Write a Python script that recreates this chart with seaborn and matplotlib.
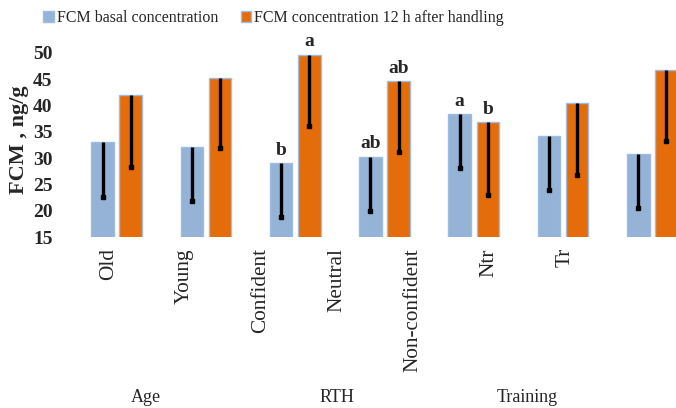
import numpy as np
import pandas as pd
import matplotlib
matplotlib.use("Agg")
import matplotlib.pyplot as plt
import matplotlib.transforms as mtransforms
from matplotlib.patches import Patch
import seaborn as sns

# categories and group labels
categories = ["Old", "Young", "Confident", "Neutral", "Non-confident", "Ntr", "Tr"]
groups = ["Age", "RTH", "Training"]
group_centers = [0.5, 3, 5.5]  # on the label axis (category units)

series = ["FCM basal concentration", "FCM concentration 12 h after handling"]

# bar heights
basal = [33.0, 32.2, 29.1, 30.3, 38.4, 34.3, 30.8]
handling = [42.1, 45.3, 49.7, 44.6, 36.8, 40.5, 46.8]

# error bars (only drawn downwards)
basal_err = [10.3, 10.4, 10.3, 10.4, 10.3, 10.4, 10.2]
handling_err = [13.7, 13.4, 13.6, 13.5, 13.8, 13.7, 13.5]

# significance letters
basal_letters = ["", "", "b", "ab", "a", "", ""]
handling_letters = ["", "", "a", "ab", "b", "", ""]

colors = ["#95B3D7", "#E46C0A"]
edge = "#9DBDE3"

df = pd.DataFrame({
    "category": categories * 2,
    "series": [series[0]] * len(categories) + [series[1]] * len(categories),
    "value": basal + handling,
})

sns.set_style("white")
plt.rcParams["font.family"] = ["Liberation Serif", "DejaVu Serif"]

fig = plt.figure(figsize=(6.76, 4.08), dpi=100)
ax = fig.add_axes([0.1065, 0.419, 0.9246, 0.4512])

sns.barplot(data=df, x="category", y="value", hue="series", order=categories,
            hue_order=series, palette=colors, width=0.63, gap=0.2,
            edgecolor=edge, linewidth=1, saturation=1, errorbar=None,
            legend=False, ax=ax)

ax.set_xlim(-0.5, 6.5)
ax.set_ylim(15, 50)
ax.set_yticks(range(15, 51, 5))
for t in ax.get_yticklabels():
    t.set_fontweight("bold")
ax.tick_params(axis="y", length=0, pad=14, labelsize=14)
ax.set_xticks([])
ax.set_xlabel("")
ax.set_ylabel("FCM , ng/g", fontsize=16, fontweight="bold")
ax.yaxis.set_label_coords(-0.068, 0.53)
sns.despine(ax=ax, left=True, bottom=True)

# error bars and letters
for cont, errs, letters in zip(ax.containers, [basal_err, handling_err],
                               [basal_letters, handling_letters]):
    for bar, e, lt in zip(cont.patches, errs, letters):
        x = bar.get_x() + bar.get_width() / 2
        top = bar.get_y() + bar.get_height()
        ax.vlines(x, top - e, top, color="black", linewidth=2.4, zorder=3)
        ax.plot([x], [top - e], marker="s", markersize=3.5, color="black", zorder=3)
        if lt:
            ax.annotate(lt, (x, top), xytext=(0, 3), textcoords="offset points",
                        ha="center", va="bottom", fontsize=14, fontweight="bold")

# category labels sit on their own axis
lab = fig.add_axes([0.1036, 0.419, 0.789, 0.01])
lab.set_xlim(-0.5, 6.5)
lab.set_xticks(range(len(categories)))
lab.set_xticklabels(categories, rotation=90, fontsize=15.3, va="top")
lab.set_yticks([])
lab.tick_params(axis="x", length=0, pad=8)
lab.patch.set_alpha(0)
for s in lab.spines.values():
    s.set_visible(False)

trans = mtransforms.blended_transform_factory(lab.transData, fig.transFigure)
for g, c in zip(groups, group_centers):
    lab.text(c, 0.026, g, transform=trans, ha="center", va="center", fontsize=13)

handles = [Patch(facecolor=colors[0], edgecolor=edge),
           Patch(facecolor=colors[1], edgecolor=edge)]
fig.legend(handles, series, loc="center left", bbox_to_anchor=(0.043, 0.955),
           ncol=2, frameon=False, fontsize=11.5, handlelength=0.65,
           handleheight=0.65, handletextpad=0.2, columnspacing=1.4)

fig.savefig("out.png", dpi=100)
